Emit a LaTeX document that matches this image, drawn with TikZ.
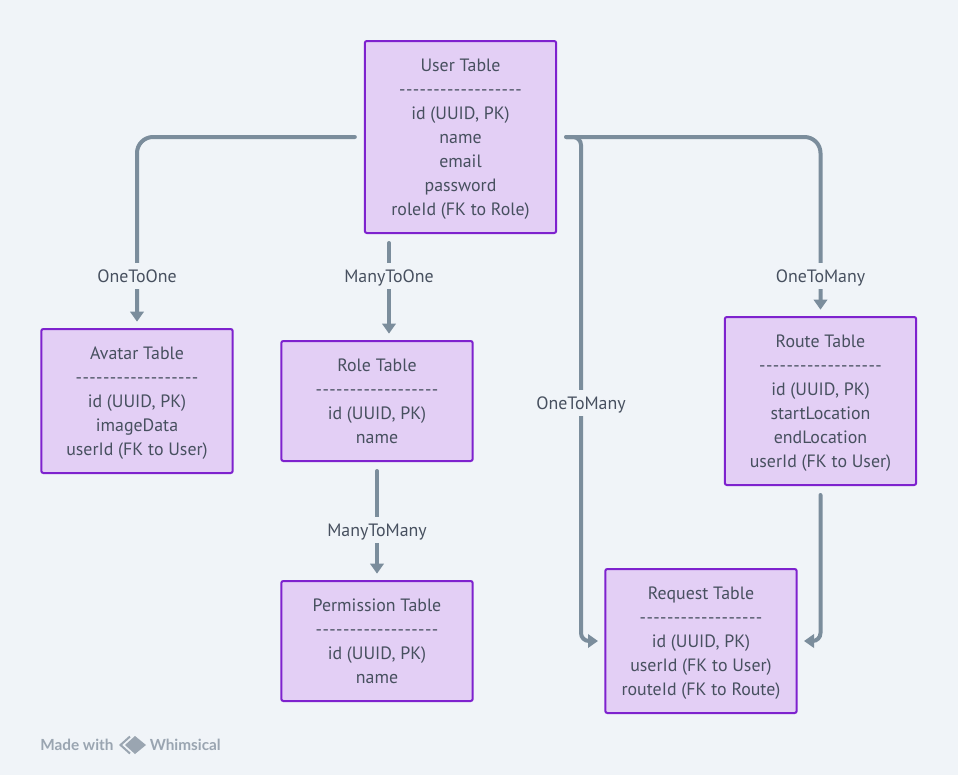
\documentclass[tikz,border=0pt]{standalone}
\usepackage{fontspec}
\setmainfont{PT Sans}
\newfontfamily\whimfont{Lato}
\usetikzlibrary{arrows.meta}
\definecolor{pagebg}{HTML}{F0F4F8}
\definecolor{boxfill}{HTML}{E3CFF5}
\definecolor{boxline}{HTML}{7E22CE}
\definecolor{linkcol}{HTML}{7B8D9C}
\definecolor{textcol}{HTML}{47505F}
\definecolor{markcol}{HTML}{9AA5B1}
\newcommand{\dk}{-\kern.3pt}
\newcommand{\dashrow}{\dk\dk\dk\dk\dk\dk\dk\dk\dk\dk\dk\dk\dk\dk\dk\dk\dk-}
\tikzset{
tablebox/.style={draw=boxline, fill=boxfill, line width=1.5pt, rounded corners=1.5pt, outer sep=0pt,
  minimum width=143.5pt, align=center, text=textcol, text depth=0pt, font=\fontsize{13.4}{18}\selectfont},
link/.style={draw=linkcol, line width=3pt, line cap=round, rounded corners=12pt, shorten <=7.5pt, shorten >=5.5pt,
  -{Triangle[length=7.5pt,width=10pt]}},
tightlink/.style={link, rounded corners=6pt},
linklabel/.style={fill=pagebg, text=textcol, inner sep=2pt, inner ysep=5pt, text height=9.5pt, text depth=0pt, font=\fontsize{13.4}{18}\selectfont},
watermark/.style={text=markcol, inner sep=0pt, font=\whimfont\bfseries\fontsize{11.5}{13}\selectfont},
}
\begin{document}
\begin{tikzpicture}[x=0.75pt,y=-0.75pt]
\fill[pagebg] (0,0) rectangle (958,775);
\useasboundingbox (0,0) rectangle (958,775);

% tables
\node[tablebox, minimum height=144pt] (user) at (460.5,137) {User Table\\\dashrow\\id (UUID, PK)\\name\\email\\password\\roleId (FK to Role)};
\node[tablebox, minimum height=108pt] (avatar) at (137,401) {Avatar Table\\\dashrow\\id (UUID, PK)\\imageData\\userId (FK to User)};
\node[tablebox, minimum height=90pt] (role) at (377,401) {Role Table\\\dashrow\\id (UUID, PK)\\name};
\node[tablebox, minimum height=90pt] (permission) at (377,641) {Permission Table\\\dashrow\\id (UUID, PK)\\name};
\node[tablebox, minimum height=126pt] (route) at (820.5,401) {Route Table\\\dashrow\\id (UUID, PK)\\startLocation\\endLocation\\userId (FK to User)};
\node[tablebox, minimum height=108pt] (request) at (701,641) {Request Table\\\dashrow\\id (UUID, PK)\\userId (FK to User)\\routeId (FK to Route)};

\coordinate (roleTop) at (389,341);
\coordinate (requestBus) at (581,400);

% connectors
\draw[link] (user.west) -| (avatar.north);
\draw[link] (user.south -| roleTop) -- (roleTop);
\draw[link] (role.south) -- (permission.north);
\draw[tightlink] (user.east) -| (requestBus) |- (request.west);
\draw[link] (user.east) -| (route.north);
\draw[tightlink] (route.south) |- (request.east);

% labels
\node[linklabel] (oneToOne) at (137,276) {OneToOne};
\node[linklabel] (manyToOne) at (389,276) {ManyToOne};
\node[linklabel] (manyToMany) at (377,530) {ManyToMany};
\node[linklabel] (oneToManyA) at (581,403) {OneToMany};
\node[linklabel] (oneToManyB) at (820.5,276) {OneToMany};

% watermark
\node[watermark, anchor=west] (madeWith) at (40,745) {Made with};
\node[watermark, anchor=west] (whimsical) at (149.5,745) {Whimsical};
\fill[markcol] (135,736) -- (146,745) -- (135,754) -- (125,745) -- cycle;
\draw[markcol, line width=1.5pt] (130,736.5) -- (120.5,745) -- (130,753.5);
\end{tikzpicture}
\end{document}
